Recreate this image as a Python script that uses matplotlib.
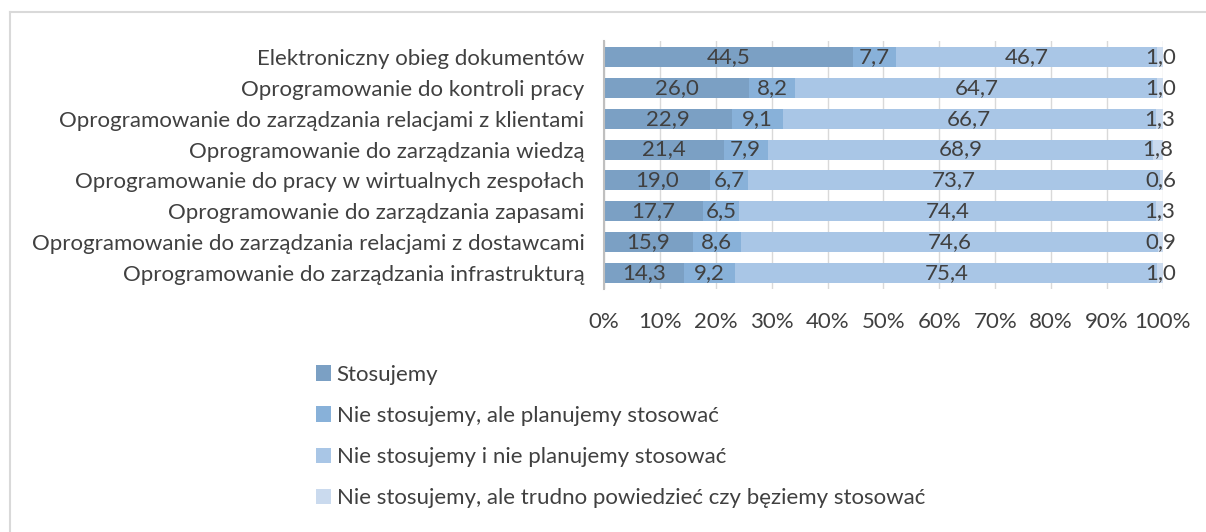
import numpy as np
import matplotlib
matplotlib.use("Agg")
import matplotlib.pyplot as plt
from matplotlib.lines import Line2D

plt.rcParams['font.family'] = ['Lato', 'DejaVu Sans']

categories = [
    "Elektroniczny obieg dokumentów",
    "Oprogramowanie do kontroli pracy",
    "Oprogramowanie do zarządzania relacjami z klientami",
    "Oprogramowanie do zarządzania wiedzą",
    "Oprogramowanie do pracy w wirtualnych zespołach",
    "Oprogramowanie do zarządzania zapasami",
    "Oprogramowanie do zarządzania relacjami z dostawcami",
    "Oprogramowanie do zarządzania infrastrukturą",
]
stosujemy = [44.5, 26.0, 22.9, 21.4, 19.0, 17.7, 15.9, 14.3]
planujemy = [7.7, 8.2, 9.1, 7.9, 6.7, 6.5, 8.6, 9.2]
nie_planujemy = [46.7, 64.7, 66.7, 68.9, 73.7, 74.4, 74.6, 75.4]
trudno = [1.0, 1.0, 1.3, 1.8, 0.6, 1.3, 0.9, 1.0]
series_names = [
    "Stosujemy",
    "Nie stosujemy, ale planujemy stosować",
    "Nie stosujemy i nie planujemy stosować",
    "Nie stosujemy, ale trudno powiedzieć czy bęziemy stosować",
]
colors = ["#7ba0c4", "#88b1d9", "#a9c6e6", "#cadaee"]

series = np.array([stosujemy, planujemy, nie_planujemy, trudno])
totals = series.sum(axis=0)
shares = series / totals * 100

FS = 16
fig = plt.figure(figsize=(12.06, 5.32), dpi=100)
ax = fig.add_axes([0.5008, 0.4577, 0.4635, 0.4643])

y = np.arange(len(categories))
left = np.zeros(len(categories))
handles = []
for vals, raw, c, name in zip(shares, series, colors, series_names):
    h = ax.barh(y, vals, left=left, height=0.65, color=c, label=name, zorder=2)
    handles.append(h)
    for yi, l, v, r in zip(y, left, vals, raw):
        ax.text(l + v / 2, yi, f"{r:.1f}".replace(".", ","), ha="center",
                va="center", fontsize=FS, color="#404040", zorder=3)
    left += vals

ax.set_xlim(0, 100)
ax.set_ylim(len(categories) - 0.5, -0.5)
ax.set_yticks(y)
ax.set_yticklabels(categories, fontsize=FS, color="#404040")
ax.set_xticks(np.arange(0, 101, 10))
ax.set_xticklabels([f"{t}%" for t in range(0, 101, 10)], fontsize=FS,
                   color="#404040")
ax.tick_params(axis="both", length=0)
ax.tick_params(axis="y", pad=14)
ax.tick_params(axis="x", pad=17)
ax.grid(axis="x", color="#d9d9d9", lw=1, zorder=0)
for s in ["top", "right", "bottom"]:
    ax.spines[s].set_visible(False)
ax.spines["left"].set_color("#bfbfbf")
ax.spines["left"].set_linewidth(1.5)

fig.legend(handles=handles, loc="upper left", bbox_to_anchor=(0.2525, 0.335),
           frameon=False, fontsize=FS, labelspacing=0.95, handlelength=0.7,
           handleheight=0.7, handletextpad=0.25, labelcolor="#404040",
           borderpad=0)

# ramka wykresu (lewa i górna krawędź)
fig.add_artist(Line2D([10 / 1206, 10 / 1206], [0, 1 - 12 / 532],
                      transform=fig.transFigure, color="#d9d9d9", lw=1.5))
fig.add_artist(Line2D([10 / 1206, 1], [1 - 12 / 532, 1 - 12 / 532],
                      transform=fig.transFigure, color="#d9d9d9", lw=1.5))

fig.savefig("out.png", dpi=100)
